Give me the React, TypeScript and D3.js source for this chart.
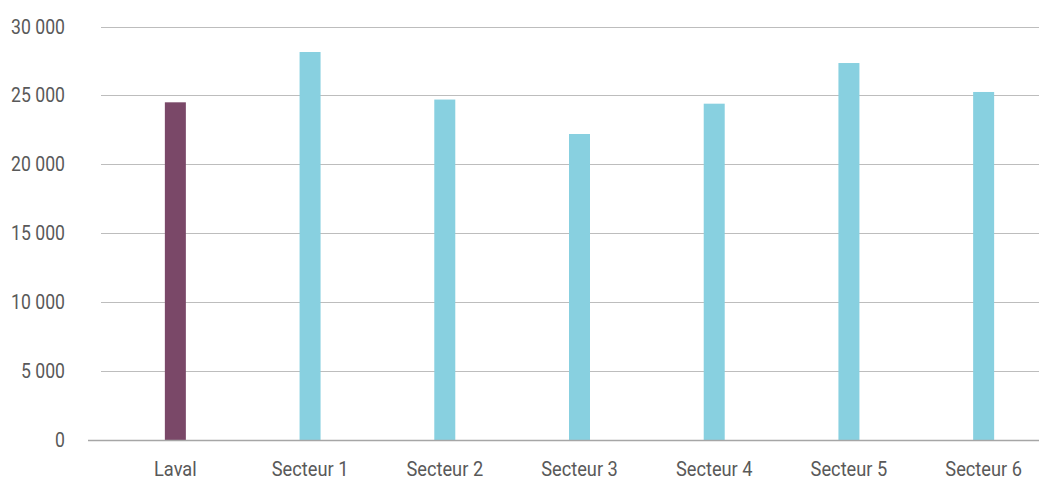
import React from "react";
import * as d3 from "d3";

const categories = ["Laval", "Secteur 1", "Secteur 2", "Secteur 3", "Secteur 4", "Secteur 5", "Secteur 6"];
const values = [24500, 28150, 24700, 22200, 24400, 27350, 25250];
const yTicks = [0, 5000, 10000, 15000, 20000, 25000, 30000];

const W = 1039;
const H = 481;
const FONT = "Roboto, 'Liberation Sans', sans-serif";

export default function App() {
  const x = d3.scalePoint<string>().domain(categories).range([108, 1051]).padding(0.5);
  const y = d3.scaleLinear().domain([0, 30000]).range([440, 26.5]);
  const barW = 21;
  const fmt = (v: number) => d3.format(",")(v).replace(/,/g, " ");

  return (
    <svg
      width={W}
      height={H}
      style={{ position: "absolute", left: 0, top: 0, background: "#fff" }}
      fontFamily={FONT}
    >
      {yTicks.map((t) => (
        <g key={t}>
          {t !== 0 && (
            <line x1={101} x2={W} y1={Math.round(y(t)) + 0.5} y2={Math.round(y(t)) + 0.5} stroke="#bdbdbd" strokeWidth={1.2} />
          )}
          <text
            transform={`translate(65,${y(t) + 7}) scale(0.84,1)`}
            textAnchor="end"
            fontSize={21}
            fill="#595959"
          >
            {fmt(t)}
          </text>
        </g>
      ))}
      {categories.map((c, i) => (
        <rect
          key={c}
          x={(x(c) as number) - barW / 2}
          y={y(values[i])}
          width={barW}
          height={y(0) - y(values[i])}
          fill={i === 0 ? "#7a4868" : "#88d0e0"}
        />
      ))}
      <line x1={88} x2={W} y1={440.5} y2={440.5} stroke="#a6a6a6" strokeWidth={1.3} />
      {categories.map((c) => (
        <text
          key={c}
          transform={`translate(${x(c) as number},476) scale(0.89,1)`}
          textAnchor="middle"
          fontSize={20.5}
          fill="#595959"
        >
          {c}
        </text>
      ))}
    </svg>
  );
}
